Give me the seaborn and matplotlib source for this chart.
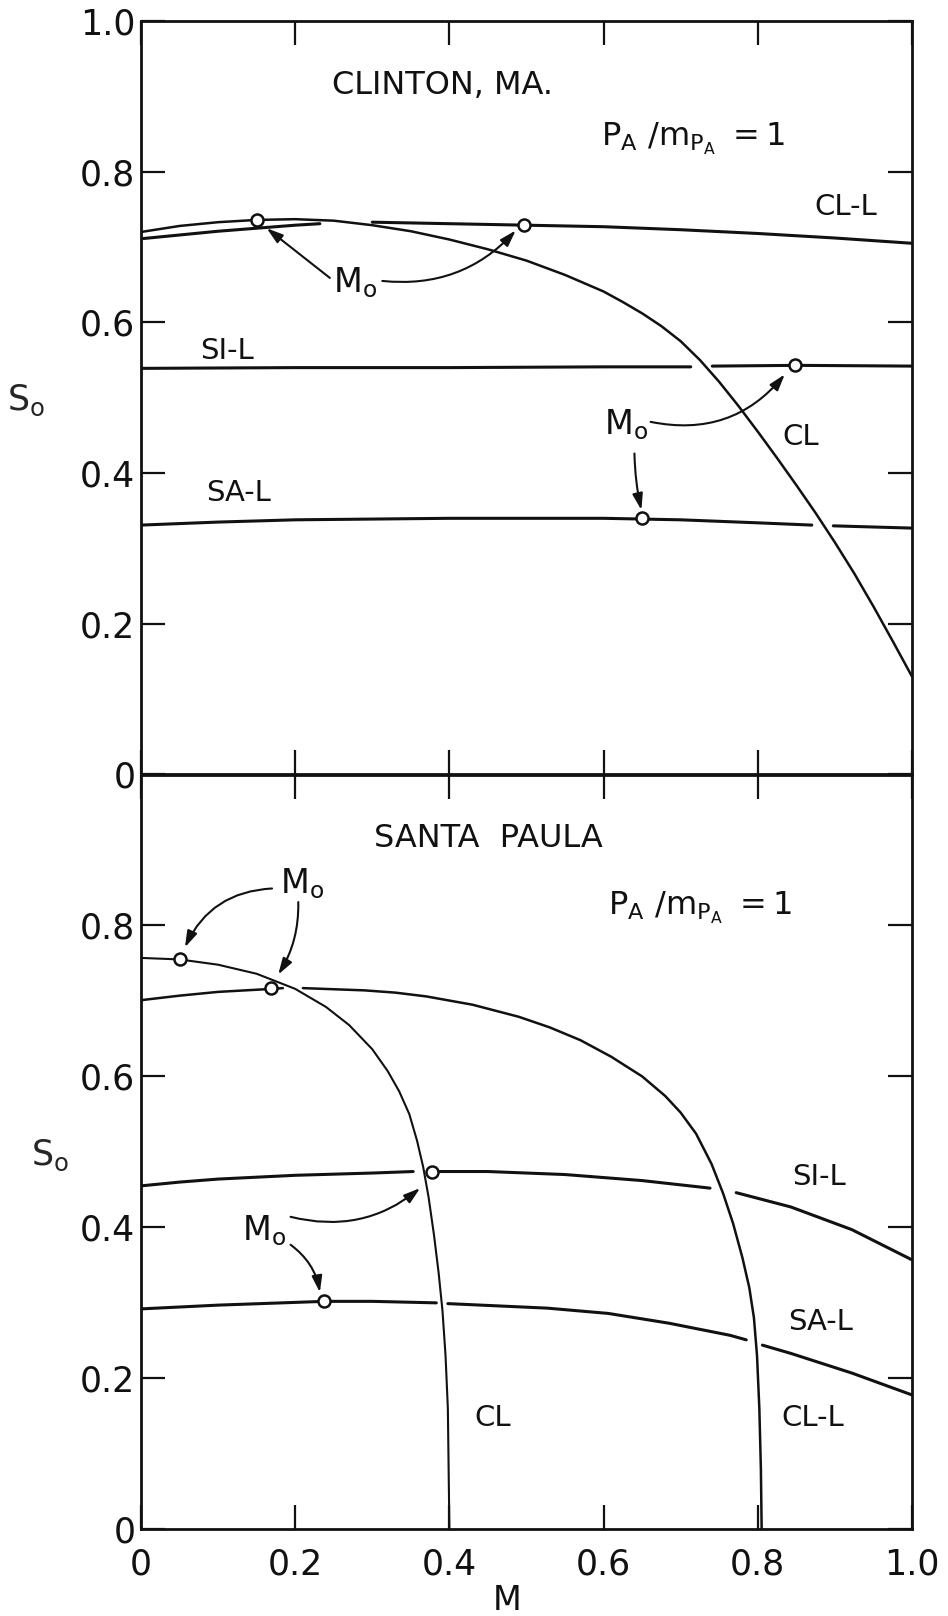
import numpy as np
import pandas as pd
import matplotlib
matplotlib.use("Agg")
import matplotlib.pyplot as plt
import seaborn as sns

nan = np.nan

# ---------------- Clinton, MA. (top panel) ----------------
top_cl_M = [0.00, 0.05, 0.10, 0.15, 0.20, 0.25, 0.30, 0.35, 0.40, 0.45, 0.50,
            0.55, 0.60, 0.625, 0.65, 0.675, 0.70, 0.725, 0.75, 0.775, 0.80,
            0.825, 0.85, 0.875, 0.90, 0.925, 0.95, 0.975, 1.00]
top_cl_S = [0.720, 0.728, 0.733, 0.736, 0.737, 0.735, 0.729, 0.721, 0.710, 0.697, 0.682,
            0.663, 0.641, 0.627, 0.612, 0.595, 0.575, 0.550, 0.521, 0.489, 0.455,
            0.420, 0.384, 0.347, 0.308, 0.267, 0.223, 0.177, 0.130]

top_cll_M = [0.00, 0.05, 0.10, 0.15, 0.20, 0.232, nan, 0.30, 0.40, 0.50, 0.60, 0.70, 0.80, 0.90, 1.00]
top_cll_S = [0.711, 0.716, 0.721, 0.725, 0.729, 0.731, nan, 0.733, 0.731, 0.729, 0.727, 0.723, 0.718, 0.712, 0.705]

top_sil_M = [0.00, 0.20, 0.40, 0.60, 0.713, nan, 0.741, 0.85, 1.00]
top_sil_S = [0.539, 0.540, 0.540, 0.541, 0.541, nan, 0.542, 0.543, 0.542]

top_sal_M = [0.00, 0.10, 0.20, 0.30, 0.40, 0.50, 0.60, 0.70, 0.80, 0.870, nan, 0.898, 1.00]
top_sal_S = [0.331, 0.335, 0.338, 0.339, 0.340, 0.340, 0.340, 0.338, 0.334, 0.331, nan, 0.330, 0.327]

top_mark_M = [0.150, 0.497, 0.848, 0.650]
top_mark_S = [0.736, 0.729, 0.543, 0.340]

# ---------------- Santa Paula (bottom panel) ----------------
bot_cl_M = [0.00, 0.05, 0.10, 0.15, 0.20, 0.24, 0.27, 0.30, 0.32, 0.335, 0.348, 0.358,
            0.366, 0.373, 0.380, 0.386, 0.391, 0.395, 0.398, 0.399, 0.400]
bot_cl_S = [0.757, 0.755, 0.748, 0.736, 0.716, 0.692, 0.668, 0.636, 0.607, 0.580, 0.550, 0.515,
            0.480, 0.440, 0.390, 0.340, 0.290, 0.230, 0.160, 0.080, 0.000]

bot_cll_M = [0.00, 0.05, 0.10, 0.17, 0.184, nan, 0.21, 0.29, 0.33, 0.37, 0.43, 0.49, 0.53,
             0.57, 0.61, 0.65, 0.68, 0.70, 0.72, 0.74, 0.755, 0.768, 0.780, 0.789,
             0.795, 0.799, 0.802, 0.804, 0.805]
bot_cll_S = [0.701, 0.707, 0.712, 0.716, 0.717, nan, 0.717, 0.714, 0.711, 0.706, 0.695, 0.679, 0.665,
             0.648, 0.626, 0.600, 0.574, 0.552, 0.524, 0.484, 0.445, 0.405, 0.360, 0.320,
             0.280, 0.230, 0.160, 0.080, 0.000]

bot_sil_M = [0.00, 0.05, 0.10, 0.20, 0.30, 0.353, nan, 0.378, 0.45, 0.55, 0.65, 0.738, nan,
             0.772, 0.843, 0.922, 1.00]
bot_sil_S = [0.455, 0.460, 0.464, 0.469, 0.472, 0.474, nan, 0.474, 0.474, 0.470, 0.462, 0.452, nan,
             0.446, 0.427, 0.397, 0.357]

bot_sal_M = [0.00, 0.10, 0.238, 0.30, 0.383, nan, 0.398, 0.527, 0.606, 0.685, 0.764, 0.785, nan,
             0.806, 0.843, 0.922, 1.00]
bot_sal_S = [0.292, 0.297, 0.302, 0.302, 0.300, nan, 0.299, 0.293, 0.286, 0.273, 0.257, 0.251, nan,
             0.244, 0.233, 0.207, 0.178]

bot_mark_M = [0.051, 0.169, 0.378, 0.238]
bot_mark_S = [0.756, 0.717, 0.474, 0.302]

tick_vals = [0.0, 0.2, 0.4, 0.6, 0.8, 1.0]
tick_labels = ["0", "0.2", "0.4", "0.6", "0.8", "1.0"]
bot_ytick_labels = ["0", "0.2", "0.4", "0.6", "0.8", ""]

# ---------------- styling ----------------
sns.set_style("ticks")
plt.rcParams["font.family"] = ["DejaVu Sans"]
plt.rcParams["mathtext.fontset"] = "dejavusans"
INK = "#111111"


def segments(M, S, name):
    rows, seg = [], 0
    for m, s in zip(M, S):
        if np.isnan(m):
            seg += 1
            continue
        rows.append((m, s, f"{name}_{seg}"))
    return pd.DataFrame(rows, columns=["M", "S", "seg"])


def draw_curve(ax, M, S, name, lw):
    df = segments(M, S, name)
    sns.lineplot(data=df, x="M", y="S", units="seg", estimator=None, sort=False,
                 color=INK, lw=lw, ax=ax, legend=False, solid_joinstyle="round")


def arrow(ax, start, tip, rad):
    ax.annotate("", xy=tip, xytext=start,
                arrowprops=dict(arrowstyle="-|>,head_length=0.7,head_width=0.22",
                                connectionstyle=f"arc3,rad={rad}", color=INK, lw=1.5,
                                shrinkA=0, shrinkB=0, mutation_scale=14),
                zorder=7)


fig = plt.figure(figsize=(9.48, 16.16), dpi=100)
W, H = 948.0, 1616.0
left, right = 141.0, 912.0
ax_top = fig.add_axes([left / W, 1 - 774.5 / H, (right - left) / W, 753.5 / H])
ax_bot = fig.add_axes([left / W, 1 - 1529.3 / H, (right - left) / W, 754.8 / H])

FS_TICK = 25
FS_LAB = 21
for ax in (ax_top, ax_bot):
    ax.set_xlim(0, 1)
    ax.set_ylim(0, 1)
    for sp in ax.spines.values():
        sp.set_visible(True)
        sp.set_linewidth(2.0)
        sp.set_color(INK)
    ax.set_xticks(tick_vals)
    ax.set_yticks(tick_vals)
    ax.tick_params(axis="both", which="major", direction="in", length=17, width=1.6,
                   color=INK, labelsize=FS_TICK, labelcolor=INK,
                   top=True, bottom=True, left=True, right=True)
    ax.tick_params(axis="y", pad=4)
    ax.tick_params(axis="x", pad=13)

# ---- top panel ----
draw_curve(ax_top, top_cl_M, top_cl_S, "cl", 1.8)
draw_curve(ax_top, top_cll_M, top_cll_S, "cll", 2.2)
draw_curve(ax_top, top_sil_M, top_sil_S, "sil", 2.2)
draw_curve(ax_top, top_sal_M, top_sal_S, "sal", 2.2)
sns.scatterplot(x=top_mark_M, y=top_mark_S, ax=ax_top, s=75, facecolor="white",
                edgecolor=INK, linewidth=1.8, zorder=8, legend=False)
ax_top.set_yticklabels(tick_labels)
ax_top.tick_params(axis="x", labelbottom=False)
ax_top.set_xlabel("")
ax_top.set_ylabel(r"S$_\mathrm{o}$", rotation=0, fontsize=25, ha="center", va="center")
ax_top.yaxis.set_label_coords(-0.149, 0.497)

ax_top.text(0.248, 0.915, "CLINTON, MA.", fontsize=23, ha="left", va="center", color=INK)
ax_top.text(0.596, 0.834, r"$\mathrm{P_A\ /m_{P_A}\ =1}$", fontsize=23, ha="left",
            va="baseline", color=INK)
ax_top.text(0.914, 0.753, "CL-L", fontsize=FS_LAB, ha="center", va="center", color=INK)
ax_top.text(0.112, 0.562, "SI-L", fontsize=FS_LAB, ha="center", va="center", color=INK)
ax_top.text(0.127, 0.374, "SA-L", fontsize=FS_LAB, ha="center", va="center", color=INK)
ax_top.text(0.855, 0.448, "CL", fontsize=FS_LAB, ha="center", va="center", color=INK)
ax_top.text(0.249, 0.640, r"M$_\mathrm{o}$", fontsize=24, ha="left", va="baseline", color=INK)
ax_top.text(0.600, 0.451, r"M$_\mathrm{o}$", fontsize=24, ha="left", va="baseline", color=INK)
arrow(ax_top, (0.245, 0.659), (0.163, 0.725), 0.0)
arrow(ax_top, (0.313, 0.655), (0.486, 0.722), 0.25)
arrow(ax_top, (0.661, 0.468), (0.835, 0.531), 0.3)
arrow(ax_top, (0.640, 0.426), (0.649, 0.351), 0.05)

# ---- bottom panel ----
draw_curve(ax_bot, bot_cl_M, bot_cl_S, "cl", 1.5)
draw_curve(ax_bot, bot_cll_M, bot_cll_S, "cll", 1.8)
draw_curve(ax_bot, bot_sil_M, bot_sil_S, "sil", 2.2)
draw_curve(ax_bot, bot_sal_M, bot_sal_S, "sal", 2.2)
sns.scatterplot(x=bot_mark_M, y=bot_mark_S, ax=ax_bot, s=75, facecolor="white",
                edgecolor=INK, linewidth=1.8, zorder=8, legend=False)
ax_bot.set_yticklabels(bot_ytick_labels)
ax_bot.set_xticklabels(tick_labels)
ax_bot.set_xlabel("M", fontsize=24, color=INK)
ax_bot.xaxis.set_label_coords(0.475, -0.072)
ax_bot.set_ylabel(r"S$_\mathrm{o}$", rotation=0, fontsize=25, ha="center", va="center")
ax_bot.yaxis.set_label_coords(-0.118, 0.496)

ax_bot.text(0.302, 0.915, "SANTA  PAULA", fontsize=23, ha="left", va="center", color=INK)
ax_bot.text(0.606, 0.814, r"$\mathrm{P_A\ /m_{P_A}\ =1}$", fontsize=23, ha="left",
            va="baseline", color=INK)
ax_bot.text(0.880, 0.467, "SI-L", fontsize=FS_LAB, ha="center", va="center", color=INK)
ax_bot.text(0.882, 0.275, "SA-L", fontsize=FS_LAB, ha="center", va="center", color=INK)
ax_bot.text(0.456, 0.148, "CL", fontsize=FS_LAB, ha="center", va="center", color=INK)
ax_bot.text(0.871, 0.148, "CL-L", fontsize=FS_LAB, ha="center", va="center", color=INK)
ax_bot.text(0.180, 0.843, r"M$_\mathrm{o}$", fontsize=24, ha="left", va="baseline", color=INK)
ax_bot.text(0.131, 0.383, r"M$_\mathrm{o}$", fontsize=24, ha="left", va="baseline", color=INK)
arrow(ax_bot, (0.170, 0.849), (0.057, 0.771), 0.3)
arrow(ax_bot, (0.204, 0.831), (0.178, 0.735), -0.15)
arrow(ax_bot, (0.194, 0.414), (0.362, 0.452), 0.25)
arrow(ax_bot, (0.194, 0.377), (0.232, 0.314), -0.2)

fig.savefig("out.png", dpi=100, facecolor="white")
